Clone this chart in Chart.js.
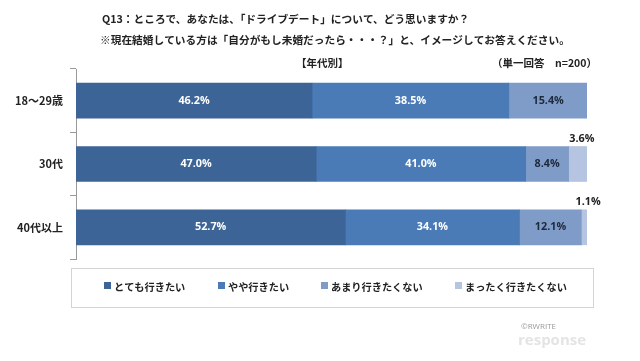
<!DOCTYPE html>
<html>
<head>
<meta charset="utf-8">
<script src="https://cdn.jsdelivr.net/npm/chart.js@4"></script>
<style>
  html, body { margin: 0; padding: 0; background: #ffffff; }
  canvas { display: block; }
</style>
</head>
<body>
<canvas id="chart" width="640" height="361"></canvas>
<script>
const categories = ['18〜29歳', '30代', '40代以上'];
const seriesNames = ['とても行きたい', 'やや行きたい', 'あまり行きたくない', 'まったく行きたくない'];
const veryMuch = [46.2, 47.0, 52.7];
const somewhat = [38.5, 41.0, 34.1];
const notMuch = [15.4, 8.4, 12.1];
const notAtAll = [0, 3.6, 1.1];
const colors = ['#3c6496', '#4a7bb6', '#7f9bc8', '#b4c4e1'];

const titleLine1 = 'Q13：ところで、あなたは、「ドライブデート」について、どう思いますか？';
const titleLine2 = '※現在結婚している方は「自分がもし未婚だったら・・・？」と、イメージしてお答えください。';
const subLeft = '【年代別】';
const subRight = '（単一回答　n=200）';

const jp = '"Noto Sans CJK JP", "Noto Sans", sans-serif';
const num = '"Open Sans", "DejaVu Sans", sans-serif';

// titles, data labels, legend box and the credit
const extras = {
    id: 'extras',
    afterDatasetsDraw: (chart) => {
        const ctx = chart.ctx;
        ctx.save();

        // bar labels
        chart.data.datasets.forEach((ds, di) => {
            const meta = chart.getDatasetMeta(di);
            meta.data.forEach((bar, i) => {
                const v = ds.data[i];
                if (!v) return;
                const txt = v.toFixed(1) + '%';
                ctx.font = 'bold 10.8px ' + num;
                ctx.textAlign = 'center';
                ctx.textBaseline = 'middle';
                const cx = (bar.x + bar.base) / 2;
                if (di == 3) {
                    ctx.fillStyle = '#222222';
                    ctx.fillText(txt, cx + 4, bar.y - bar.height / 2 - 8);
                } else {
                    ctx.fillStyle = di == 2 ? '#1e2a3c' : '#ffffff';
                    ctx.fillText(txt, cx, bar.y);
                }
            });
        });

        // title
        ctx.fillStyle = '#222222';
        ctx.textAlign = 'left';
        ctx.textBaseline = 'middle';
        ctx.font = 'bold 10.7px ' + jp;
        ctx.fillText(titleLine1, 102, 19);
        ctx.fillText(titleLine2, 100, 40);
        ctx.font = 'bold 10.5px ' + jp;
        ctx.fillText(subLeft, 296, 63);
        ctx.fillText(subRight, 492, 63);

        // legend
        ctx.strokeStyle = '#d4d4d4';
        ctx.lineWidth = 1;
        ctx.strokeRect(71.5, 268.5, 522, 39);
        const legX = [104, 218, 321, 455];
        ctx.font = 'bold 10.2px ' + jp;
        chart.data.datasets.forEach((ds, di) => {
            ctx.fillStyle = ds.backgroundColor;
            ctx.fillRect(legX[di], 282, 7, 7);
            ctx.fillStyle = '#222222';
            ctx.fillText(ds.label, legX[di] + 10, 287);
        });

        // credit
        ctx.fillStyle = '#9a9a9a';
        ctx.font = '8px ' + num;
        ctx.fillText('©RWRITE', 521, 327);
        ctx.fillStyle = '#e4e4e4';
        ctx.font = 'bold 15px ' + num;
        ctx.fillText('response', 518, 341);

        ctx.restore();
    }
};

const data = {
    labels: categories,
    datasets: [veryMuch, somewhat, notMuch, notAtAll].map((vals, i) => ({
        label: seriesNames[i],
        data: vals,
        backgroundColor: colors[i],
        borderWidth: 0,
        barThickness: 35
    }))
};

const config = {
    type: 'bar',
    data: data,
    options: {
        indexAxis: 'y',
        responsive: false,
        animation: false,
        devicePixelRatio: 1,
        layout: {
            padding: { left: 0, right: 53, top: 69, bottom: 102 }
        },
        plugins: {
            legend: { display: false },
            tooltip: { enabled: false }
        },
        scales: {
            x: {
                stacked: true,
                min: 0,
                max: 100,
                display: false
            },
            y: {
                stacked: true,
                afterFit: (scale) => { scale.width = 76; },
                grid: {
                    offset: true,
                    drawOnChartArea: false,
                    drawTicks: true,
                    tickLength: 6,
                    color: '#9a9a9a'
                },
                border: { color: '#9a9a9a', width: 1 },
                ticks: {
                    color: '#222222',
                    padding: 7,
                    font: { family: jp, size: 11, weight: 'bold' }
                }
            }
        }
    },
    plugins: [extras]
};

const chart = new Chart(document.getElementById('chart'), config);
</script>
</body>
</html>
